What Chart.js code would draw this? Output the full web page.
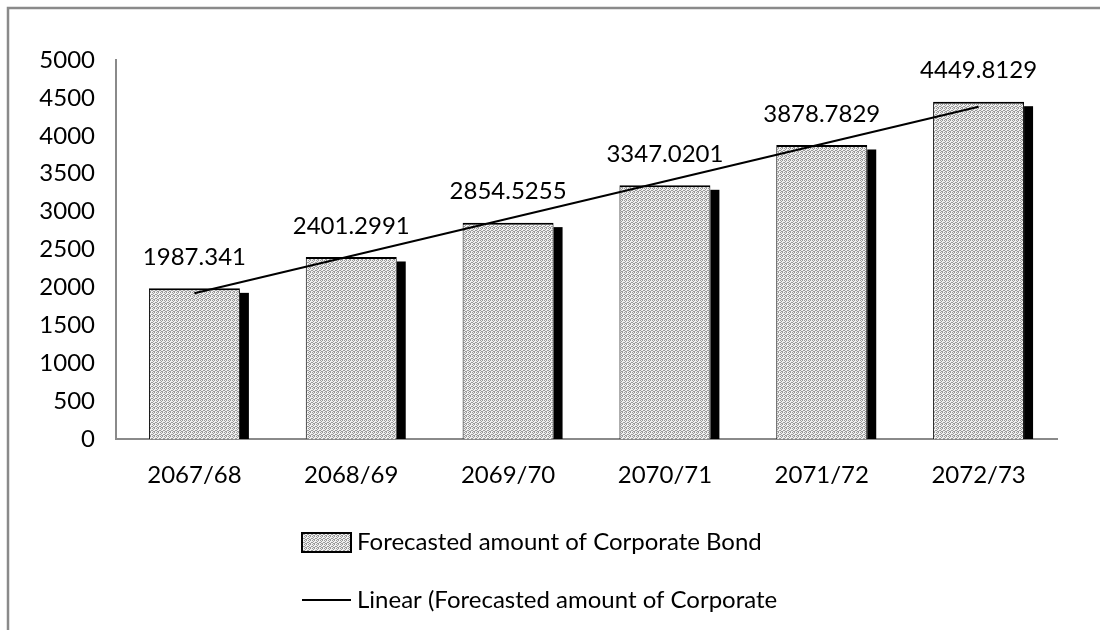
<!DOCTYPE html>
<html>
<head>
<meta charset="utf-8">
<title>Forecasted amount of Corporate Bond</title>
<script src="https://cdn.jsdelivr.net/npm/chart.js@4/dist/chart.umd.min.js"></script>
<style>
  html, body { margin: 0; padding: 0; background: #fff; }
  #wrap { width: 1100px; height: 630px; }
</style>
</head>
<body>
<div id="wrap"><canvas id="bondChart" width="1100" height="630"></canvas></div>
<script>
// Fiscal years and forecasted corporate bond amounts
const years = ['2067/68', '2068/69', '2069/70', '2070/71', '2071/72', '2072/73'];
const bondAmounts = [1987.341, 2401.2991, 2854.5255, 3347.0201, 3878.7829, 4449.8129];
// Linear trendline: only its two ends are given, the gap is spanned
const trendLine = [1922, null, null, null, null, 4384];
const yTicks = [0, 500, 1000, 1500, 2000, 2500, 3000, 3500, 4000, 4500, 5000];

const barLabel = 'Forecasted amount of Corporate Bond';
const trendLabel = 'Linear (Forecasted amount of Corporate';

const FONT = 'Lato, "Open Sans", sans-serif';

// small stippled fill used for the bars and the legend swatch
function makeStipple() {
    const c = document.createElement('canvas');
    c.width = 4; c.height = 4;
    const g = c.getContext('2d');
    g.fillStyle = '#f0f0f0';
    g.fillRect(0, 0, 4, 4);
    g.fillStyle = '#9a9a9a';
    [[0, 0], [2, 0], [1, 1], [3, 2], [0, 2], [2, 3], [1, 3]].forEach(([x, y]) => g.fillRect(x, y, 1, 1));
    return g.createPattern(c, 'repeat');
}
const stipple = makeStipple();

// outer frame (only top and left edges fall inside the canvas)
const framePlugin = {
    id: 'frame',
    beforeDraw(chart) {
        const ctx = chart.ctx;
        ctx.save();
        ctx.strokeStyle = '#8a8a8a';
        ctx.lineWidth = 2.5;
        ctx.beginPath();
        ctx.moveTo(8, 640);
        ctx.lineTo(8, 8);
        ctx.lineTo(1110, 8);
        ctx.stroke();
        ctx.restore();
    }
};

// black side/depth block behind each column
const depthPlugin = {
    id: 'depth',
    beforeDatasetDraw(chart, args) {
        if (chart.data.datasets[args.index].type !== 'bar') return;
        const ctx = chart.ctx;
        ctx.save();
        ctx.fillStyle = '#000';
        args.meta.data.forEach(bar => {
            const right = bar.x + bar.width / 2;
            ctx.fillRect(right, bar.y + 4.5, 9, bar.base - bar.y - 4.5);
        });
        ctx.restore();
    }
};

// value labels above the columns
const valueLabels = {
    id: 'valueLabels',
    afterDatasetsDraw(chart) {
        const idx = chart.data.datasets.findIndex(d => d.type === 'bar');
        const meta = chart.getDatasetMeta(idx);
        const ctx = chart.ctx;
        ctx.save();
        ctx.font = '24px ' + FONT;
        ctx.fillStyle = '#000';
        ctx.textAlign = 'center';
        ctx.textBaseline = 'middle';
        meta.data.forEach((bar, i) => {
            ctx.fillText(String(bondAmounts[i]), bar.x, bar.y - 31);
        });
        ctx.restore();
    }
};

// legend stacked below the axis, one entry per line
const stackedLegend = {
    id: 'stackedLegend',
    afterDraw(chart) {
        const ctx = chart.ctx;
        ctx.save();
        ctx.font = '24px ' + FONT;
        ctx.fillStyle = '#000';
        ctx.textBaseline = 'middle';
        ctx.textAlign = 'left';

        // swatch for the columns
        ctx.fillStyle = stipple;
        ctx.fillRect(302, 533, 49, 19);
        ctx.strokeStyle = '#000';
        ctx.lineWidth = 2;
        ctx.strokeRect(302, 533, 49, 19);
        ctx.fillStyle = '#000';
        ctx.fillText(barLabel, 357, 542);

        // swatch for the trendline
        ctx.beginPath();
        ctx.moveTo(302, 600);
        ctx.lineTo(351, 600);
        ctx.stroke();
        ctx.fillText(trendLabel, 357, 600);
        ctx.restore();
    }
};

const ctx = document.getElementById('bondChart').getContext('2d');
const bondChart = new Chart(ctx, {
    data: {
        labels: years,
        datasets: [
            {
                type: 'line',
                label: trendLabel,
                data: trendLine,
                spanGaps: true,
                borderColor: '#000',
                borderWidth: 2,
                pointRadius: 0,
                fill: false,
                order: 0
            },
            {
                type: 'bar',
                label: barLabel,
                data: bondAmounts,
                backgroundColor: stipple,
                borderColor: '#000',
                borderWidth: { top: 2, left: 1, right: 1, bottom: 0 },
                borderSkipped: false,
                barPercentage: 0.58,
                categoryPercentage: 1,
                order: 1
            }
        ]
    },
    options: {
        responsive: false,
        animation: false,
        layout: {
            padding: { left: 0, right: 43, top: 60, bottom: 131 }
        },
        scales: {
            x: {
                grid: { display: false, drawTicks: false },
                border: { display: true, color: '#8a8a8a', width: 2 },
                ticks: {
                    color: '#000',
                    font: { family: FONT, size: 24 },
                    padding: 22,
                    maxRotation: 0
                },
                afterFit(scale) { scale.height = 60; }
            },
            y: {
                min: 0,
                max: 5000,
                grid: { display: false, drawTicks: false },
                border: { display: true, color: '#8a8a8a', width: 2 },
                afterBuildTicks(scale) {
                    scale.ticks = yTicks.map(v => ({ value: v }));
                },
                ticks: {
                    color: '#000',
                    font: { family: FONT, size: 24 },
                    padding: 21,
                    callback: v => String(v)
                },
                afterFit(scale) { scale.width = 116; }
            }
        },
        plugins: {
            legend: { display: false },
            tooltip: { enabled: false }
        }
    },
    plugins: [framePlugin, depthPlugin, valueLabels, stackedLegend]
});
</script>
</body>
</html>
